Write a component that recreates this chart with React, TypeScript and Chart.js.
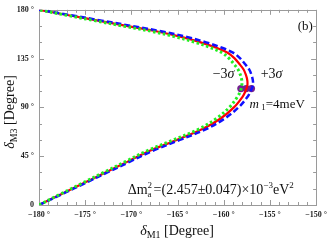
import React, { useEffect, useRef } from "react";
import { Chart, registerables } from "chart.js";

Chart.register(...registerables);

// δM3 sample values (degrees)
const deltaM3 = [0, 10, 20, 30, 40, 50, 60, 70, 80, 90, 100, 105, 110, 115, 120, 125, 130, 135, 140, 145, 150, 155, 160, 165, 170, 175, 180];
// δM1 for the central value (red solid)
const deltaM1Central = [-180, -177.6, -175.2, -172.8, -170.4, -168.0, -165.1, -162.3, -160.3, -158.9, -157.95, -157.65, -157.45, -157.45, -157.6, -157.85, -158.3, -158.8, -159.5, -160.8, -162.5, -164.6, -167.2, -170.4, -173.6, -176.8, -180];
// δM1 for +3σ (blue dashed)
const deltaM1Plus = [-180, -177.5, -175.05, -172.6, -170.15, -167.7, -164.75, -161.9, -159.85, -158.4, -157.4, -157.1, -156.85, -156.85, -157.0, -157.25, -157.7, -158.2, -158.9, -160.2, -161.9, -164.0, -166.65, -169.9, -173.2, -176.55, -180];
// δM1 for −3σ (green dotted)
const deltaM1Minus = [-180, -177.7, -175.35, -173.0, -170.65, -168.3, -165.45, -162.7, -160.75, -159.4, -158.5, -158.2, -158.05, -158.05, -158.2, -158.45, -158.9, -159.4, -160.1, -161.4, -163.1, -165.2, -167.75, -170.9, -174.0, -177.05, -180];
// m1 = 4 meV points
const markerM1 = [-158.15, -157.57, -157.0];
const markerM3 = [107.4, 107.4, 107.4];

const xTicks = [-180, -175, -170, -165, -160, -155, -150];
const yTicks = [0, 45, 90, 135, 180];

const SERIF = "'Liberation Serif', 'DejaVu Serif', serif";

type Part = { t: string; size: number; dy?: number; italic?: boolean; bold?: boolean };

function drawRich(ctx: CanvasRenderingContext2D, x: number, y: number, parts: Part[], align: "left" | "center" = "left") {
  let w = 0;
  for (const p of parts) {
    ctx.font = `${p.italic ? "italic " : ""}${p.bold ? "bold " : ""}${p.size}px ${SERIF}`;
    w += ctx.measureText(p.t).width;
  }
  let cx = align === "center" ? x - w / 2 : x;
  for (const p of parts) {
    ctx.font = `${p.italic ? "italic " : ""}${p.bold ? "bold " : ""}${p.size}px ${SERIF}`;
    ctx.fillText(p.t, cx, y + (p.dy || 0));
    cx += ctx.measureText(p.t).width;
  }
}

const overlayPlugin = {
  id: "overlay",
  beforeDatasetsDraw(chart: any) {
    const { ctx, chartArea } = chart;
    const { left, right, top, bottom } = chartArea;
    const xs = chart.scales.x;
    const ys = chart.scales.y;
    ctx.save();
    ctx.strokeStyle = "#9a9a9a";
    ctx.lineWidth = 1;
    ctx.beginPath();
    for (let v = -180; v <= -150; v += 1) {
      const px = Math.round(xs.getPixelForValue(v)) + 0.5;
      const len = v % 5 === 0 ? 5 : 3;
      ctx.moveTo(px, bottom);
      ctx.lineTo(px, bottom - len);
      ctx.moveTo(px, top);
      ctx.lineTo(px, top + len);
    }
    for (let v = 0; v <= 180; v += 15) {
      const py = Math.round(ys.getPixelForValue(v)) + 0.5;
      const len = v % 45 === 0 ? 5 : 3;
      ctx.moveTo(left, py);
      ctx.lineTo(left + len, py);
      ctx.moveTo(right, py);
      ctx.lineTo(right - len, py);
    }
    ctx.stroke();
    ctx.strokeRect(Math.round(left) + 0.5, Math.round(top) + 0.5, Math.round(right - left), Math.round(bottom - top));
    ctx.restore();
  },
  afterDraw(chart: any) {
    const { ctx } = chart;
    const xs = chart.scales.x;
    const ys = chart.scales.y;
    const X = (v: number) => xs.getPixelForValue(v);
    const Y = (v: number) => ys.getPixelForValue(v);
    ctx.save();
    ctx.fillStyle = "#111";
    ctx.textBaseline = "alphabetic";
    ctx.textAlign = "left";
    // axis titles
    drawRich(ctx, 177, 235, [
      { t: "δ", size: 14, italic: true },
      { t: "M1", size: 10, dy: 3 },
      { t: " [Degree]", size: 14 },
    ], "center");
    ctx.save();
    ctx.translate(14, 112);
    ctx.rotate(-Math.PI / 2);
    drawRich(ctx, 0, 0, [
      { t: "δ", size: 14, italic: true },
      { t: "M3", size: 10, dy: 3 },
      { t: " [Degree]", size: 14 },
    ], "center");
    ctx.restore();
    // panel label
    drawRich(ctx, X(-152.0), Y(161), [{ t: "(b)", size: 13 }]);
    // sigma labels
    drawRich(ctx, X(-161.2), Y(117.5), [{ t: "−3", size: 14 }, { t: "σ", size: 14, italic: true }]);
    drawRich(ctx, X(-156.0), Y(117.5), [{ t: "+3", size: 14 }, { t: "σ", size: 14, italic: true }]);
    // m1 label
    drawRich(ctx, X(-157.2), Y(89), [
      { t: "m", size: 13, italic: true },
      { t: " 1", size: 9, dy: 2 },
      { t: "=4meV", size: 13 },
    ]);
    // Δm² label
    drawRich(ctx, X(-170.4), Y(10), [
      { t: "Δm", size: 14 },
      { t: "2", size: 9, dy: -6 },
      { t: "", size: 9 },
    ]);
    const baseX = X(-170.4);
    ctx.font = `14px ${SERIF}`;
    const wDm = ctx.measureText("Δm").width;
    ctx.font = `9px ${SERIF}`;
    ctx.fillText("a", baseX + wDm, Y(10) + 3);
    drawRich(ctx, baseX + wDm + 6, Y(10), [
      { t: "=(2.457±0.047)×10", size: 14 },
      { t: "−3", size: 9, dy: -6 },
      { t: "eV", size: 14 },
      { t: "2", size: 9, dy: -6 },
    ]);
    ctx.restore();
  },
};

export default function App() {
  const ref = useRef<HTMLCanvasElement | null>(null);
  useEffect(() => {
    if (!ref.current) return;
    const mk = (xsArr: number[], ysArr: number[]) => xsArr.map((x, i) => ({ x, y: ysArr[i] }));
    const chart = new Chart(ref.current, {
      type: "scatter",
      data: {
        datasets: [
          {
            label: "-3σ",
            data: mk(deltaM1Minus, deltaM3),
            showLine: true,
            borderColor: "#22ee22",
            borderWidth: 3,
            borderDash: [2.5, 2.5],
            pointRadius: 0,
            tension: 0.35,
          },
          {
            label: "+3σ",
            data: mk(deltaM1Plus, deltaM3),
            showLine: true,
            borderColor: "#1010ff",
            borderWidth: 2.5,
            borderDash: [6, 3],
            pointRadius: 0,
            tension: 0.35,
          },
          {
            label: "central",
            data: mk(deltaM1Central, deltaM3),
            showLine: true,
            borderColor: "#ff0000",
            borderWidth: 2.2,
            pointRadius: 0,
            tension: 0.35,
          },
          {
            label: "m1=4meV",
            data: mk(markerM1, markerM3),
            showLine: false,
            pointRadius: 3.6,
            pointBackgroundColor: "#742090",
            pointBorderWidth: 0,
            pointBorderColor: "#742090",
          },
        ],
      },
      options: {
        animation: false,
        responsive: true,
        maintainAspectRatio: false,
        layout: { padding: { top: 9, right: 14, left: 0, bottom: 0 } },
        plugins: { legend: { display: false }, tooltip: { enabled: false } },
        scales: {
          x: {
            type: "linear",
            min: -180,
            max: -150,
            afterFit: (s: any) => { s.height = 39; },
            afterBuildTicks: (s: any) => { s.ticks = xTicks.map((v) => ({ value: v })); },
            grid: { display: false, drawTicks: false },
            border: { display: false },
            ticks: {
              padding: 5,
              color: "#222",
              font: { family: SERIF, size: 8, weight: "bold" },
              callback: (v: any) => `${v < 0 ? "−" + Math.abs(v) : v} °`,
            },
          },
          y: {
            type: "linear",
            min: 0,
            max: 180,
            afterFit: (s: any) => { s.width = 39; },
            afterBuildTicks: (s: any) => { s.ticks = yTicks.map((v) => ({ value: v })); },
            grid: { display: false, drawTicks: false },
            border: { display: false },
            ticks: {
              padding: 5,
              color: "#222",
              font: { family: SERIF, size: 8, weight: "bold" },
              callback: (v: any) => (v === 0 ? "0" : `${v} °`),
            },
          },
        },
      },
      plugins: [overlayPlugin],
    } as any);
    return () => chart.destroy();
  }, []);
  return (
    <div style={{ position: "fixed", left: 0, top: 0, width: 332, height: 244, background: "#fff" }}>
      <canvas ref={ref} />
    </div>
  );
}
